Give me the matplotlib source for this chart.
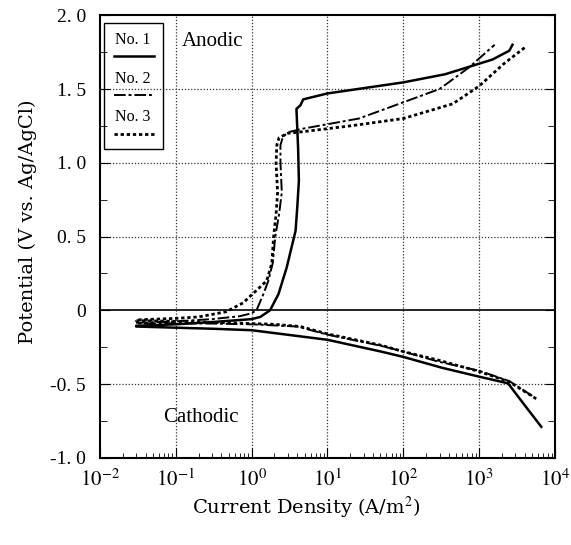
import matplotlib
matplotlib.use("Agg")
import matplotlib.pyplot as plt
from matplotlib.lines import Line2D
from matplotlib.patches import Rectangle
from matplotlib.ticker import FixedLocator, LogLocator, NullFormatter

plt.rcParams['font.family'] = ['Liberation Serif', 'DejaVu Serif']
plt.rcParams['mathtext.fontset'] = 'stix'

# ------------------------------------------------------------------
# Data: cathodic end -> corrosion cusp -> anodic end
# ------------------------------------------------------------------
x_no1 = [6600, 3800, 2400, 1000, 325, 100, 51, 10, 1, 0.3, 0.1, 0.03,
         0.03, 0.1, 0.3, 1.0, 1.3, 1.75, 2.26, 2.9, 3.8, 4.0, 4.2, 4.1, 3.9,
         4.4, 4.8, 10, 100, 355, 730, 1500, 2500, 2750]
y_no1 = [-0.79, -0.63, -0.495, -0.45, -0.39, -0.316, -0.28, -0.20, -0.135, -0.125, -0.118, -0.11,
         -0.105, -0.095, -0.08, -0.06, -0.045, 0.0, 0.11, 0.29, 0.54, 0.7, 0.88, 1.1, 1.365,
         1.39, 1.43, 1.47, 1.545, 1.60, 1.65, 1.70, 1.76, 1.80]

x_no2 = [5000, 2500, 1000, 300, 100, 50, 10, 4, 1, 0.3, 0.1, 0.03,
         0.03, 0.1, 0.3, 0.7, 1.0, 1.16, 1.43, 1.66, 1.9, 2.05, 2.3, 2.5, 2.4, 2.4,
         2.6, 3.2, 4.6, 26, 100, 300, 730, 1600]
y_no2 = [-0.58, -0.48, -0.41, -0.35, -0.28, -0.24, -0.165, -0.11, -0.095, -0.09, -0.088, -0.09,
         -0.085, -0.075, -0.06, -0.04, -0.02, 0.0, 0.11, 0.2, 0.32, 0.5, 0.65, 0.8, 1.0, 1.12,
         1.18, 1.21, 1.23, 1.30, 1.41, 1.50, 1.645, 1.80]

x_no3 = [5650, 2500, 1000, 300, 100, 51, 10, 4.4, 2, 1, 0.5, 0.1, 0.03,
         0.03, 0.1, 0.2, 0.46, 0.77, 1.16, 1.58, 1.85, 1.95, 2.1, 2.2, 2.1, 2.15,
         2.3, 3.0, 4.6, 20, 100, 450, 1000, 2100, 4200]
y_no3 = [-0.60, -0.485, -0.415, -0.34, -0.28, -0.237, -0.16, -0.11, -0.095, -0.09, -0.085, -0.075, -0.07,
         -0.065, -0.055, -0.045, -0.01, 0.05, 0.135, 0.2, 0.32, 0.5, 0.65, 0.8, 1.0, 1.12,
         1.17, 1.20, 1.21, 1.25, 1.30, 1.40, 1.52, 1.67, 1.79]

labels = ["No. 1", "No. 2", "No. 3"]
y_ticks = [-1.0, -0.5, 0, 0.5, 1.0, 1.5, 2.0]
y_tick_labels = ["-1. 0", "-0. 5", "0", "0. 5", "1. 0", "1. 5", "2. 0"]
x_ticks = [1e-2, 1e-1, 1e0, 1e1, 1e2, 1e3, 1e4]
x_tick_labels = ["$10^{-2}$", "$10^{-1}$", "$10^{0}$", "$10^{1}$", "$10^{2}$", "$10^{3}$", "$10^{4}$"]

# ------------------------------------------------------------------
# Figure
# ------------------------------------------------------------------
fig = plt.figure(figsize=(5.71, 5.45), dpi=100)
ax = fig.add_axes([0.175, 0.160, 0.797, 0.812])

ax.set_xscale("log")
ax.set_xlim(1e-2, 1e4)
ax.set_ylim(-1.0, 2.0)

# grid
for xv in x_ticks[1:-1]:
    ax.axvline(xv, color="#333333", lw=0.9, ls=(0, (1, 1.5)), zorder=1)
for yv in [-0.5, 0.5, 1.0, 1.5]:
    ax.axhline(yv, color="#333333", lw=0.9, ls=(0, (1, 1.5)), zorder=1)
ax.axhline(0, color="black", lw=1.2, zorder=1)

st1 = dict(color="black", lw=1.8, ls="-")
st2 = dict(color="black", lw=1.4, ls=(0, (6, 1.5, 1.5, 1.5)))
st3 = dict(color="black", lw=2.0, ls=(0, (1.2, 1.0)))

ax.plot(x_no1, y_no1, zorder=3, **st1)
ax.plot(x_no2, y_no2, zorder=3, **st2)
ax.plot(x_no3, y_no3, zorder=3, **st3)

# ticks
ax.xaxis.set_major_locator(FixedLocator(x_ticks))
ax.set_xticklabels(x_tick_labels, fontsize=15)
ax.xaxis.set_minor_locator(LogLocator(base=10, subs=range(2, 10)))
ax.xaxis.set_minor_formatter(NullFormatter())
ax.set_yticks(y_ticks)
ax.set_yticklabels(y_tick_labels, fontsize=14)
ax.set_yticks([-0.75, -0.25, 0.25, 0.75, 1.25, 1.75], minor=True)
ax.tick_params(axis="both", which="both", direction="in")
ax.tick_params(axis="x", which="major", length=7, pad=8, top=False)
ax.tick_params(axis="x", which="minor", length=3.5, top=False)
ax.tick_params(axis="y", which="major", length=7, pad=10, right=True)
ax.tick_params(axis="y", which="minor", length=5, right=True)
for s in ax.spines.values():
    s.set_linewidth(1.5)

ax.set_xlabel("Current Density (A/m$^2$)", fontsize=14, family="DejaVu Serif")
ax.set_ylabel("Potential (V vs. Ag/AgCl)", fontsize=14, family="DejaVu Serif")
ax.xaxis.set_label_coords(0.454, -0.113)
ax.xaxis.label.set_va("center")
ax.yaxis.set_label_coords(-0.158, 0.533)
ax.yaxis.label.set_va("center")

ax.text(0.12, 1.82, "Anodic", fontsize=15, va="center", ha="left")
ax.text(0.069, -0.73, "Cathodic", fontsize=15, va="center", ha="left")

# legend box: text above each line sample
ax.add_patch(Rectangle((0.008, 0.697), 0.13, 0.285, transform=ax.transAxes,
                       fill=False, lw=1.0, ec="black", zorder=5))
for i, (lab, st) in enumerate(zip(labels, [st1, st2, st3])):
    yt = 0.945 - i * 0.088
    ax.text(0.073, yt, lab, transform=ax.transAxes, fontsize=11.5,
            ha="center", va="center", zorder=6)
    ax.add_line(Line2D([0.03, 0.118], [yt - 0.038, yt - 0.038],
                       transform=ax.transAxes, zorder=6, **st))

plt.savefig("out.png", dpi=100)
plt.close()
